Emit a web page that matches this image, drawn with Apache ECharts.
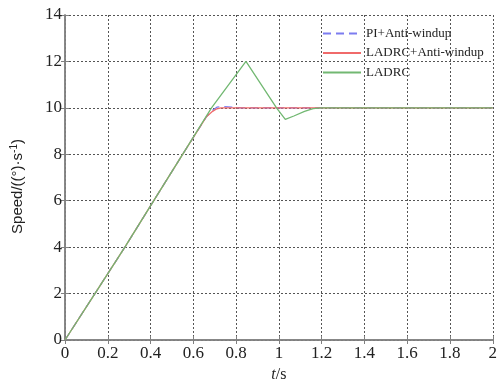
<!DOCTYPE html>
<html><head><meta charset="utf-8">
<script src="https://cdn.jsdelivr.net/npm/echarts@6/dist/echarts.min.js"></script>
<style>html,body{margin:0;padding:0;background:#fff}#c{width:500px;height:388px}</style>
</head><body><div id="c"></div>
<script>
const xTicks = [0,0.2,0.4,0.6,0.8,1,1.2,1.4,1.6,1.8,2];
const yTicks = [0,2,4,6,8,10,12,14];
const seriesNames = ['PI+Anti-windup','LADRC+Anti-windup','LADRC'];
const piT = [0,0.14,0.28,0.415,0.55,0.66,0.69,0.71,0.74,0.78,0.82,2];
const piV = [0,2,4,6,8,9.6,9.9,10.03,10.06,10.03,10,10];
const ladrcAwT = [0,0.14,0.28,0.415,0.55,0.66,0.69,0.71,0.73,0.76,2];
const ladrcAwV = [0,2,4,6,8,9.6,9.85,9.96,10,10,10];
const ladrcT = [0,0.14,0.28,0.415,0.55,0.685,0.846,0.989,1.03,1.07,1.12,1.16,1.2,2];
const ladrcV = [0,2,4,6,8,10,12,10,9.5,9.65,9.85,9.97,10,10];

const pair = (t,v)=>t.map((x,i)=>[x,v[i]]);
const serif = 'Liberation Serif';
const chart = echarts.init(document.getElementById('c'));
const axisLine = {show:true, lineStyle:{color:'#808080', width:1.5}};
const tick = {show:true, inside:true, length:4, lineStyle:{color:'#808080'}};
chart.setOption({
  animation:false,
  grid:{left:65, right:7, top:15, bottom:35, show:false},
  legend:{
    orient:'vertical', left:322, top:27, padding:0, itemWidth:38, itemHeight:12, itemGap:6.5,
    itemStyle:{opacity:0},
    textStyle:{fontFamily:serif, fontSize:13, color:'#222', lineHeight:12},
    data:seriesNames
  },
  xAxis:[{
    type:'value', min:0, max:2, interval:0.2,
    axisLine:axisLine, axisTick:tick,
    axisLabel:{fontFamily:serif, fontSize:17, color:'#222', margin:5,
      formatter:v=>String(Math.round(v*10)/10)},
    splitLine:{show:true, lineStyle:{type:[2,2], color:'#555', width:1}},
    name:'{i|t}/s', nameLocation:'middle', nameGap:27,
    nameTextStyle:{fontFamily:serif, fontSize:16, color:'#222',
      rich:{i:{fontFamily:serif, fontStyle:'italic', fontSize:16, color:'#222'}}}
  },{
    type:'value', min:0, max:2, interval:0.2, position:'top',
    axisLine:axisLine, axisTick:tick, axisLabel:{show:false}, splitLine:{show:false}
  }],
  yAxis:[{
    type:'value', min:0, max:14, interval:2,
    axisLine:axisLine, axisTick:tick,
    axisLabel:{fontFamily:serif, fontSize:17, color:'#222', margin:3},
    splitLine:{show:true, lineStyle:{type:[2,2], color:'#555', width:1}},
    name:'Speed/((°)·s{s|-1})', nameLocation:'middle', nameGap:38, nameRotate:90,
    nameTextStyle:{fontFamily:'Liberation Sans', fontSize:15, color:'#222', padding:[0,18,0,0],
      rich:{s:{fontFamily:'Liberation Sans', fontSize:10, color:'#222', verticalAlign:'top', padding:[0,0,8,0]}}}
  },{
    type:'value', min:0, max:14, interval:2, position:'right',
    axisLine:axisLine, axisTick:tick, axisLabel:{show:false}, splitLine:{show:false}
  }],
  series:[
    {name:seriesNames[0], type:'line', symbol:'none', data:pair(piT,piV),
     lineStyle:{color:'#7c7cf0', width:1.3, type:[8,5]}, itemStyle:{color:'#7c7cf0'}},
    {name:seriesNames[1], type:'line', symbol:'none', data:pair(ladrcAwT,ladrcAwV),
     lineStyle:{color:'#f06a6a', width:1.3}, itemStyle:{color:'#f06a6a'}},
    {name:seriesNames[2], type:'line', symbol:'none', data:pair(ladrcT,ladrcV),
     lineStyle:{color:'#72b872', width:1.3}, itemStyle:{color:'#72b872'}}
  ]
});
</script></body></html>
